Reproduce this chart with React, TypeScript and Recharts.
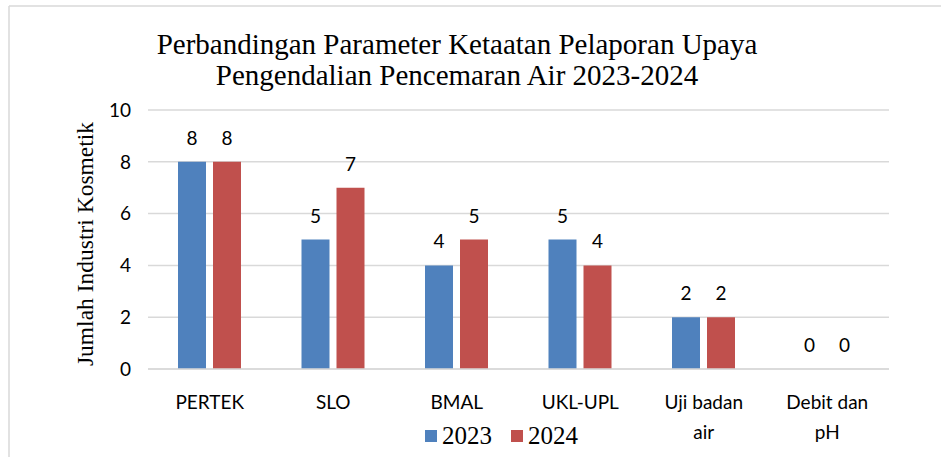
import { BarChart, Bar, XAxis, YAxis, CartesianGrid, LabelList } from 'recharts';

const categories = ['PERTEK', 'SLO', 'BMAL', 'UKL-UPL', 'Uji badan air', 'Debit dan pH'];
const values2023 = [8, 5, 4, 5, 2, 0];
const values2024 = [8, 7, 5, 4, 2, 0];
const yTicks = [0, 2, 4, 6, 8, 10];
const seriesNames = ['2023', '2024'];
const seriesColors = ['#4F81BD', '#C0504D'];

const data = categories.map((name, i) => ({
  name,
  y2023: values2023[i],
  y2024: values2024[i],
}));

const SANS = 'Lato, "Noto Sans", sans-serif';
const SERIF = '"Liberation Serif", "Times New Roman", serif';

function wrapLabel(text: string): string[] {
  if (text.length <= 10) return [text];
  const cut = text.lastIndexOf(' ');
  return [text.slice(0, cut), text.slice(cut + 1)];
}

function CategoryTick(props: any) {
  const { x, y, payload } = props;
  const lines = wrapLabel(payload.value);
  return (
    <g transform={`translate(${x},${y})`}>
      <text textAnchor="middle" fill="#000" fontFamily={SANS} fontSize={19}>
        {lines.map((line, i) => (
          <tspan key={i} x={0} dy={i === 0 ? 32 : 30}>
            {line}
          </tspan>
        ))}
      </text>
    </g>
  );
}

function ValueLabel(props: any) {
  const { x, y, width, value } = props;
  return (
    <text x={x + width / 2} y={y - 17} textAnchor="middle" fill="#000" fontFamily={SANS} fontSize={19}>
      {value}
    </text>
  );
}

export default function App() {
  return (
    <div style={{ position: 'absolute', left: 0, top: 0, width: 941, height: 457, background: '#fff' }}>
      <svg width={941} height={457} style={{ position: 'absolute', left: 0, top: 0 }}>
        <line x1={9} y1={6} x2={941} y2={6} stroke="#D9D9D9" strokeWidth={1.5} />
        <line x1={9} y1={6} x2={9} y2={457} stroke="#D9D9D9" strokeWidth={1.5} />
        <text x={457} y={54} textAnchor="middle" fontFamily={SERIF} fontSize={29} fill="#000">
          Perbandingan Parameter Ketaatan Pelaporan Upaya
        </text>
        <text x={457} y={85} textAnchor="middle" fontFamily={SERIF} fontSize={29} fill="#000">
          Pengendalian Pencemaran Air 2023-2024
        </text>
        <text
          x={0}
          y={0}
          transform="translate(93,244) rotate(-90)"
          textAnchor="middle"
          fontFamily={SERIF}
          fontSize={23.5}
          fill="#000"
        >
          Jumlah Industri Kosmetik
        </text>
      </svg>
      <div style={{ position: 'absolute', left: 0, top: 0 }}>
        <BarChart
          width={941}
          height={457}
          data={data}
          margin={{ top: 110, right: 52, bottom: 0, left: 101 }}
          barGap={7}
          barSize={28}
        >
          <CartesianGrid vertical={false} stroke="#D9D9D9" strokeWidth={1.5} />
          <XAxis
            dataKey="name"
            tick={<CategoryTick />}
            tickLine={false}
            axisLine={{ stroke: '#D9D9D9', strokeWidth: 1.5 }}
            interval={0}
            height={88}
          />
          <YAxis
            width={47}
            domain={[0, 10]}
            ticks={yTicks}
            tickLine={false}
            axisLine={false}
            tickMargin={11}
            tick={{ fill: '#000', fontFamily: SANS, fontSize: 19 }}
          />
          <Bar dataKey="y2023" name={seriesNames[0]} fill={seriesColors[0]} minPointSize={0.01} isAnimationActive={false}>
            <LabelList dataKey="y2023" content={<ValueLabel />} />
          </Bar>
          <Bar dataKey="y2024" name={seriesNames[1]} fill={seriesColors[1]} minPointSize={0.01} isAnimationActive={false}>
            <LabelList dataKey="y2024" content={<ValueLabel />} />
          </Bar>
        </BarChart>
      </div>
      <div
        style={{
          position: 'absolute',
          left: 425,
          top: 422,
          display: 'flex',
          alignItems: 'center',
          fontFamily: SERIF,
          fontSize: 25,
          color: '#000',
        }}
      >
        {seriesNames.map((name, i) => (
          <div key={name} style={{ display: 'flex', alignItems: 'center', marginRight: 19 }}>
            <span style={{ display: 'inline-block', width: 12, height: 12, background: seriesColors[i], marginRight: 5 }} />
            <span style={{ lineHeight: '28px' }}>{name}</span>
          </div>
        ))}
      </div>
    </div>
  );
}
